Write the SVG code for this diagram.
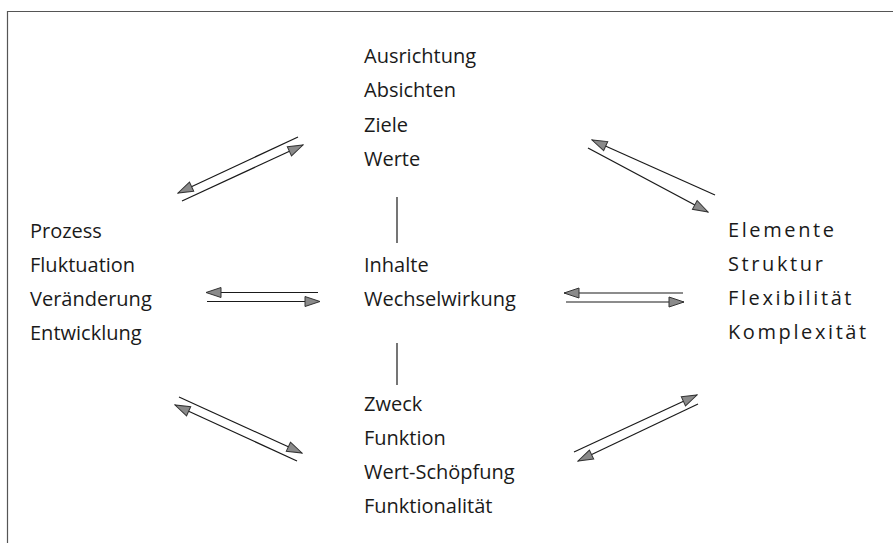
<svg xmlns="http://www.w3.org/2000/svg" width="893" height="543" viewBox="0 0 893 543">
<style>
text{font-family:"Open Sans","Noto Sans","Liberation Sans",sans-serif;font-size:20px;fill:#1a1a1a}
.r{letter-spacing:2.6px}
.c line{stroke:#1a1a1a;stroke-width:1.2}
.a{marker-end:url(#ah)}
</style>
<defs>
<marker id="ah" markerUnits="userSpaceOnUse" markerWidth="17" markerHeight="13" viewBox="0 0 17 13" refX="16" refY="6.5" orient="auto">
<path d="M1,1.5 L16,6.5 L1,11.5 Z" fill="#8a8a8a" stroke="#333" stroke-width="1"/>
</marker>
</defs>
<rect width="893" height="543" fill="#fff"/>
<g id="frame" stroke="#555" stroke-width="1.2" fill="none">
<path d="M7.5,543 V11.5 H893"/>
</g>
<g id="top">
<text x="364" y="63">Ausrichtung</text>
<text x="364" y="97">Absichten</text>
<text x="364" y="132">Ziele</text>
<text x="364" y="166">Werte</text>
</g>
<g id="left">
<text x="30" y="238">Prozess</text>
<text x="30" y="272">Fluktuation</text>
<text x="30" y="306">Veränderung</text>
<text x="30" y="340">Entwicklung</text>
</g>
<g id="center">
<text x="364" y="272">Inhalte</text>
<text x="364" y="306">Wechselwirkung</text>
</g>
<g id="right">
<text class="r" x="728" y="237">Elemente</text>
<text class="r" x="728" y="271">Struktur</text>
<text class="r" x="728" y="305">Flexibilität</text>
<text class="r" x="728" y="339">Komplexität</text>
</g>
<g id="bottom">
<text x="364" y="411">Zweck</text>
<text x="364" y="445">Funktion</text>
<text x="364" y="479">Wert-Schöpfung</text>
<text x="364" y="513">Funktionalität</text>
</g>
<g id="connectors" class="c">
<line x1="397" y1="197" x2="397" y2="243"/>
<line x1="397" y1="343" x2="397" y2="385"/>
<line class="a" x1="298" y1="137" x2="178" y2="193"/>
<line class="a" x1="182" y1="201" x2="303" y2="145"/>
<line class="a" x1="715" y1="195" x2="592" y2="140"/>
<line class="a" x1="588" y1="148" x2="708" y2="212"/>
<line class="a" x1="318" y1="292.5" x2="206" y2="292.5"/>
<line class="a" x1="207" y1="301.5" x2="320" y2="301.5"/>
<line class="a" x1="683" y1="293" x2="564" y2="293"/>
<line class="a" x1="566" y1="302" x2="684" y2="302"/>
<line class="a" x1="179" y1="397" x2="302" y2="453"/>
<line class="a" x1="297" y1="461" x2="175" y2="405"/>
<line class="a" x1="574" y1="452" x2="697" y2="395"/>
<line class="a" x1="698" y1="404" x2="578" y2="461"/>
</g>
</svg>
